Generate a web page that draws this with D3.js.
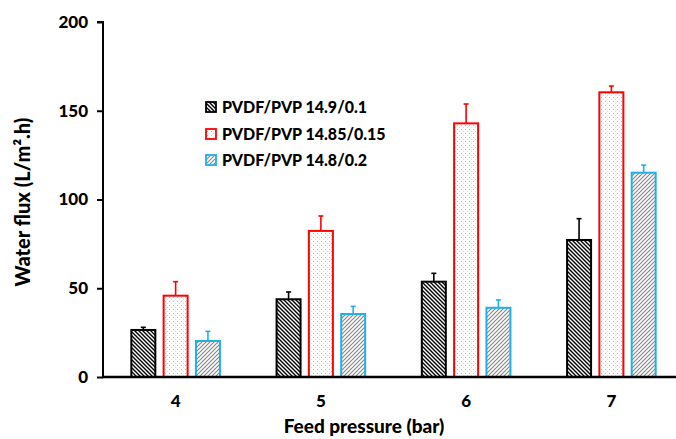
<!DOCTYPE html>
<html><head><meta charset="utf-8">
<script src="https://cdn.jsdelivr.net/npm/d3@7/dist/d3.min.js"></script>
<style>html,body{margin:0;padding:0;background:#fff;}svg{display:block;font-family:Lato,"Open Sans",sans-serif;}</style>
</head><body>
<script>
const categories = ["4", "5", "6", "7"];
const seriesNames = ["PVDF/PVP 14.9/0.1", "PVDF/PVP 14.85/0.15", "PVDF/PVP 14.8/0.2"];
const series1 = [26.5, 43.8, 53.7, 77.2];
const series2 = [45.8, 82.3, 142.9, 160.4];
const series3 = [20.3, 35.5, 39.0, 115.1];
const err1 = [1.5, 4.1, 4.7, 12.0];
const err2 = [7.9, 8.4, 10.9, 3.5];
const err3 = [5.4, 4.3, 4.4, 4.3];
const yTicks = [0, 50, 100, 150, 200];
const colors = ["#000000", "#ff0000", "#1fb0ea"];

const W = 676, H = 439;
const FONT = "Lato,'Open Sans',sans-serif";
const svg = d3.select("body").append("svg").attr("width", W).attr("height", H);
const defs = svg.append("defs");

// patterns
const p1 = defs.append("pattern").attr("id","pat0").attr("patternUnits","userSpaceOnUse").attr("width",4).attr("height",4);
p1.append("rect").attr("width",4).attr("height",4).attr("fill","#fff");
p1.append("path").attr("d","M-1,-1 L5,5 M-1,3 L1,5 M3,-1 L5,1").attr("stroke","#000").attr("stroke-width",1.4);
const p2 = defs.append("pattern").attr("id","pat1").attr("patternUnits","userSpaceOnUse").attr("width",4).attr("height",4);
p2.append("rect").attr("width",4).attr("height",4).attr("fill","#fff");
p2.append("rect").attr("x",1).attr("y",1).attr("width",1).attr("height",1).attr("fill","#bbb");
p2.append("rect").attr("x",3).attr("y",3).attr("width",1).attr("height",1).attr("fill","#ddd");
const p3 = defs.append("pattern").attr("id","pat2").attr("patternUnits","userSpaceOnUse").attr("width",4).attr("height",4);
p3.append("rect").attr("width",4).attr("height",4).attr("fill","#fff");
p3.append("path").attr("d","M-1,5 L5,-1 M-1,1 L1,-1 M3,5 L5,3").attr("stroke","#888").attr("stroke-width",1.2);

const y = d3.scaleLinear().domain([0, 200]).range([377, 22]);
const x0 = d3.scaleBand().domain(categories).range([103, 684]).paddingInner(0.39).paddingOuter(0.195);
const x1 = d3.scaleBand().domain(seriesNames).range([0, x0.bandwidth()]).paddingInner(0.257).paddingOuter(0);

const values = [series1, series2, series3];
const errs = [err1, err2, err3];

seriesNames.forEach((s, si) => {
  const g = svg.append("g");
  categories.forEach((c, ci) => {
    const xl = x0(c) + x1(s);
    const v = values[si][ci];
    const e = errs[si][ci];
    const cx = xl + x1.bandwidth()/2;
    g.append("line").attr("x1", cx).attr("x2", cx).attr("y1", y(v)).attr("y2", y(v+e))
      .attr("stroke", colors[si]).attr("stroke-width", 1.6);
    g.append("line").attr("x1", cx-2.5).attr("x2", cx+2.5).attr("y1", y(v+e)).attr("y2", y(v+e))
      .attr("stroke", colors[si]).attr("stroke-width", 1.6);
    g.append("rect").attr("x", xl).attr("y", y(v)).attr("width", x1.bandwidth()).attr("height", y(0)-y(v))
      .attr("fill", `url(#pat${si})`).attr("stroke", colors[si]).attr("stroke-width", 2);
  });
});

// y axis
const yAxis = d3.axisLeft(y).tickValues(yTicks).tickSize(6).tickPadding(9);
const ya = svg.append("g").attr("transform","translate(103,0)").call(yAxis);
ya.select(".domain").attr("stroke-width",2).attr("d","M-6,22H0V377");
ya.selectAll(".tick line").attr("stroke-width",2);
ya.selectAll(".tick text").attr("font-size",17).attr("font-weight",900).attr("fill","#000")
  .attr("font-family",FONT);

// x axis
const xAxis = d3.axisBottom(x0).tickSize(0).tickPadding(18);
const xa = svg.append("g").attr("transform","translate(0,377)").call(xAxis);
xa.select(".domain").attr("stroke-width",2.5).attr("d","M102,0H676");
xa.selectAll(".tick").attr("transform", d => `translate(${x0(d)+x1(seriesNames[1])+x1.bandwidth()/2},0)`);
xa.selectAll(".tick text").attr("font-size",17).attr("font-weight",900).attr("fill","#000")
  .attr("font-family",FONT);

// titles
svg.append("text").attr("x",364).attr("y",433).attr("text-anchor","middle")
  .attr("font-size",19).attr("font-weight",900).attr("font-family",FONT).text("Feed pressure (bar)");
svg.append("text").attr("transform","translate(30,202) rotate(-90)").attr("text-anchor","middle")
  .attr("font-size",20).attr("font-weight",900).attr("font-family",FONT).text("Water flux (L/m².h)");

// legend
const legendY = [107, 134, 160];
seriesNames.forEach((s, si) => {
  const g = svg.append("g").attr("transform", `translate(206,${legendY[si]})`);
  g.append("rect").attr("x",0).attr("y",-5).attr("width",10).attr("height",10)
    .attr("fill",`url(#pat${si})`).attr("stroke",colors[si]).attr("stroke-width",1.8);
  g.append("text").attr("x",16).attr("y",5.5).attr("font-size",16).attr("font-weight",900)
    .attr("font-family",FONT).text(s);
});
</script>
</body></html>
